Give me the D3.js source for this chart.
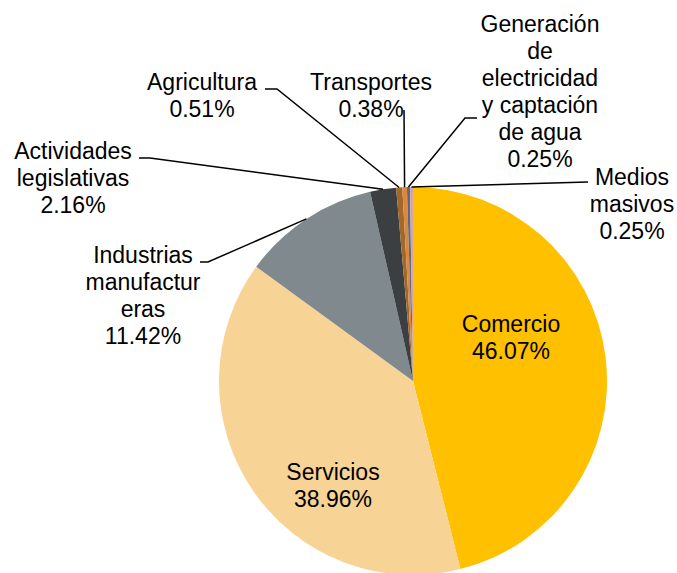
<!DOCTYPE html>
<html>
<head>
<meta charset="utf-8">
<script src="https://cdn.jsdelivr.net/npm/d3@7"></script>
<style>
  body { margin: 0; background: #fff; }
  svg { display: block; }
</style>
</head>
<body>
<div id="chart"></div>
<script>
// ---- data
var categories = ["Comercio", "Servicios", "Industrias manufactureras", "Actividades legislativas",
                  "Agricultura", "Transportes", "Generación de electricidad y captación de agua", "Medios masivos"];
var values = [46.07, 38.96, 11.42, 2.16, 0.51, 0.38, 0.25, 0.25];
var labelLines = [
    ["Comercio"],
    ["Servicios"],
    ["Industrias", "manufactur", "eras"],
    ["Actividades", "legislativas"],
    ["Agricultura"],
    ["Transportes"],
    ["Generación", "de", "electricidad", "y captación", "de agua"],
    ["Medios", "masivos"]
];
var colors = ["#FFC000", "#F8D396", "#7F898E", "#3B3F42", "#A0682C", "#E0853A", "#5A6B7C", "#D8A2A8"];

var w = 677, h = 573;
var cx = 413, cy = 381, r = 194;

// label layout: x center, first baseline, leader start + elbow (null = inside)
var layout = [
    { x: 511, y: 332, lead: null },
    { x: 333, y: 480, lead: null },
    { x: 143, y: 263, lead: [[200, 262], [208, 262]] },
    { x: 73,  y: 159, lead: [[139, 158], [150, 158]] },
    { x: 202, y: 90,  lead: [[265, 89], [277, 89]] },
    { x: 371, y: 90,  lead: [[404, 110], [404, 110]] },
    { x: 540, y: 32,  lead: [[477, 118], [465, 118]] },
    { x: 632, y: 185, lead: [[588, 182], [588, 182]] }
];

var svg = d3.select("#chart")
            .append("svg")
            .attr("width", w)
            .attr("height", h);

var g = svg.append("g")
           .attr("transform", "translate(" + cx + "," + cy + ")");

var pie = d3.pie().sort(null).value(function(d) { return d; });
var arcs = pie(values);

var arc = d3.arc().innerRadius(0).outerRadius(r);

g.selectAll(".slice")
    .data(arcs)
    .enter().append("path")
    .attr("class", "slice")
    .attr("d", arc)
    .attr("fill", function(d, i) { return colors[i]; });

// leader lines
arcs.forEach(function(d, i) {
    var L = layout[i];
    if (!L.lead) return;
    var mid = (d.startAngle + d.endAngle) / 2;
    var ex = cx + r * Math.sin(mid),
        ey = cy - r * Math.cos(mid);
    var pts = [L.lead[0], L.lead[1], [ex, ey]];
    svg.append("path")
        .attr("d", d3.line()(pts))
        .attr("fill", "none")
        .attr("stroke", "#000")
        .attr("stroke-width", 1.5);
});

// labels
arcs.forEach(function(d, i) {
    var L = layout[i];
    var lines = labelLines[i].concat([values[i].toFixed(2) + "%"]);
    var t = svg.append("text")
        .attr("text-anchor", "middle")
        .attr("font-family", "Liberation Sans, Arial, sans-serif")
        .attr("font-size", "23px")
        .attr("fill", "#000");
    lines.forEach(function(s, k) {
        t.append("tspan")
            .attr("x", L.x)
            .attr("y", L.y + k * 27)
            .text(s);
    });
});
</script>
</body>
</html>
